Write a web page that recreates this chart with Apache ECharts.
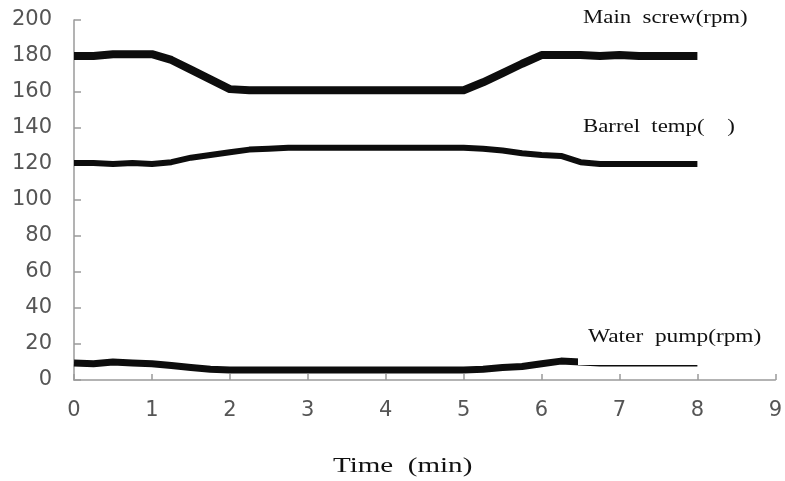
<!DOCTYPE html>
<html>
<head>
<meta charset="utf-8">
<script src="https://cdn.jsdelivr.net/npm/echarts@6/dist/echarts.min.js"></script>
<style>
html,body{margin:0;padding:0;background:#fff;}
#c{width:785px;height:481px;}
</style>
</head>
<body>
<div id="c"></div>
<script>
// Time (min)
var time = [0,0.25,0.5,0.75,1,1.25,1.5,1.75,2,2.25,2.5,2.75,3,3.25,3.5,3.75,4,4.25,4.5,4.75,5,5.25,5.5,5.75,6,6.25,6.5,6.75,7,7.25,7.5,7.75,8];
// Main screw (rpm)
var mainScrew = [180,180,181,181,181,177.8,172.4,167,161.6,161,161,161,161,161,161,161,161,161,161,161,161,165.4,170.5,175.7,180.5,180.5,180.5,180,180.5,180,180,180,180];
// Barrel temp
var barrelTemp = [120.5,120.5,120,120.5,120,121,123.5,125,126.5,128,128.5,129,129,129,129,129,129,129,129,129,129,128.5,127.5,126,125,124.5,121,120,120,120,120,120,120];
// Water pump (rpm)
var waterPump = [9.5,9,10,9.5,9,8,7,6,5.5,5.5,5.5,5.5,5.5,5.5,5.5,5.5,5.5,5.5,5.5,5.5,5.5,6,7,7.5,9,10.5,10,9.5,9.5,9.5,9.5,9.5,9.5];

var yTicks = [0,20,40,60,80,100,120,140,160,180,200];
var xTicks = [0,1,2,3,4,5,6,7,8,9];

function pairs(v){ return time.map(function(t,i){ return [t, v[i]]; }); }

var chart = echarts.init(document.getElementById('c'), null, {renderer:'canvas'});
var axisGray = '#9a9a9a';
var tickFont = {fontFamily:'DejaVu Sans', fontSize:21, color:'#555'};

chart.setOption({
  animation:false,
  backgroundColor:'#fff',
  grid:{left:74, right:7, top:20, bottom:101, containLabel:false},
  xAxis:{
    type:'value', min:xTicks[0], max:xTicks[xTicks.length-1], interval:1,
    axisLine:{show:true, onZero:false, lineStyle:{color:axisGray, width:1.5}},
    axisTick:{show:true, inside:true, length:6, lineStyle:{color:axisGray, width:1.5}},
    splitLine:{show:false},
    axisLabel:Object.assign({margin:20}, tickFont)
  },
  yAxis:{
    type:'value', min:yTicks[0], max:yTicks[yTicks.length-1], interval:20,
    axisLine:{show:true, lineStyle:{color:axisGray, width:1.5}},
    axisTick:{show:true, inside:true, length:7, lineStyle:{color:axisGray, width:1.5}},
    splitLine:{show:false},
    axisLabel:Object.assign({margin:22}, tickFont)
  },
  series:[
    {name:'Main screw(rpm)', type:'line', data:pairs(mainScrew), showSymbol:false, lineStyle:{color:'#0d0d0d', width:8, join:'round'}, z:3},
    {name:'Barrel temp', type:'line', data:pairs(barrelTemp), showSymbol:false, lineStyle:{color:'#0d0d0d', width:6, join:'round'}, z:3},
    {name:'Water pump(rpm)', type:'line', data:pairs(waterPump), showSymbol:false, lineStyle:{color:'#0d0d0d', width:7, join:'round'}, z:3}
  ],
  graphic:[
    {type:'text', left:583, top:9, scaleX:1.2, z:10,
     style:{text:'Main  screw(rpm)', font:'19px "Liberation Serif"', fill:'#111'}},
    {type:'text', left:583, top:118, scaleX:1.2, z:10,
     style:{text:'Barrel  temp(    )', font:'19px "Liberation Serif"', fill:'#111'}},
    {type:'rect', left:578, top:322, shape:{width:195, height:43}, style:{fill:'#fff'}, z:9},
    {type:'text', left:588, top:328, scaleX:1.23, z:10,
     style:{text:'Water  pump(rpm)', font:'19px "Liberation Serif"', fill:'#111'}},
    {type:'text', left:333, top:455, scaleX:1.32, z:10,
     style:{text:'Time  (min)', font:'22px "Liberation Serif"', fill:'#111'}}
  ]
});
</script>
</body>
</html>
